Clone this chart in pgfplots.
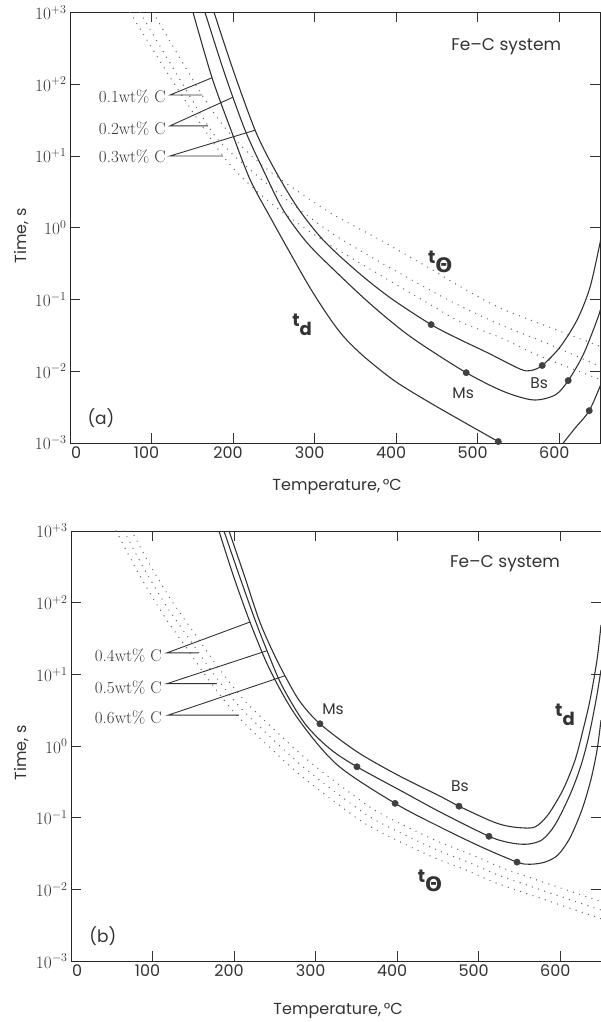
\documentclass[border=0pt]{standalone}
\usepackage{fontspec}
\usepackage{pgfplots}
\pgfplotsset{compat=1.18}
\newfontfamily\sansf[Ligatures=TeX]{Poppins}
\newfontfamily\greekf{DejaVu Sans}

\pgfplotsset{
  fecpanel/.style={
    scale only axis, width=530pt,
    xmin=0, xmax=650, ymin=-3, ymax=3,
    xtick={0,100,...,600},
    xticklabels={{\makebox[0pt][l]{\hspace{6pt}0}},100,200,300,400,500,600},
    ytick={-3,-2,...,3},
    yticklabels={$10^{-3}$,$10^{-2}$,$10^{-1}$,$10^{0}$,$10^{+1}$,$10^{+2}$,$10^{+3}$},
    tick align=inside, major tick length=10pt,
    tick style={line width=0.8pt, color=black!80},
    axis line style={line width=0.9pt, color=black!85},
    xticklabel style={font=\sansf\fontsize{16}{18}\selectfont, text=black!80, xshift=-5pt},
    yticklabel style={font=\fontsize{17}{20}\selectfont, text=black!80},
    clip mode=individual,
    xlabel={Temperature,\,°C}, ylabel={Time, s},
    label style={font=\sansf\fontsize{16}{18}\selectfont, text=black!80},
  },
  td/.style={line width=1.1pt, color=black!80, smooth},
  ttheta/.style={line width=1.4pt, color=black!60, dash pattern=on 0pt off 6.5pt, line cap=round, smooth},
  dots/.style={only marks, mark=*, mark size=3.2pt, color=black!75},
}
\tikzset{
  lead/.style={line width=0.9pt, color=black!80},
  lbl/.style={font=\fontsize{17}{20}\selectfont, text=black!80, anchor=east, inner sep=1pt},
  stxt/.style={font=\sansf\fontsize{15.5}{18}\selectfont, text=black!80},
  btxt/.style={font=\sansf\fontsize{17}{20}\selectfont, text=black!80},
}
\newcommand{\tdlabel}{{\sansf\bfseries\fontsize{18}{20}\selectfont t\raisebox{-9pt}{d}}}
\newcommand{\ttlabel}{{\sansf\bfseries\fontsize{18}{20}\selectfont t}\raisebox{-9pt}{\greekf\bfseries\fontsize{20}{22}\selectfont Θ}}

\begin{document}
\begin{tikzpicture}
\useasboundingbox (0,0) rectangle (601pt,1022pt);

% ---------------- (a) 0.1 - 0.3 wt% C ----------------
\begin{axis}[fecpanel, at={(70pt,579pt)}, anchor=south west, height=430.5pt,
  xlabel style={at={(axis description cs:0.504,-0.102)}, anchor=center},
  ylabel style={at={(axis description cs:-0.092,0.481)}, anchor=center}]
% t_theta (dotted)
\addplot[ttheta] coordinates {(101.8,3.00) (162.0,1.85) (190.2,1.39) (220.9,1.02) (254.0,0.71) (319.0,0.21) (380.4,-0.17) (441.7,-0.57) (478.5,-0.82) (527.6,-1.12) (589.0,-1.39) (651.5,-1.66)};
\addplot[ttheta] coordinates {(85.9,3.00) (169.3,1.42) (196.3,1.06) (220.9,0.81) (257.7,0.46) (319.0,-0.06) (380.4,-0.48) (441.7,-0.87) (478.5,-1.09) (527.6,-1.35) (589.0,-1.63) (651.5,-1.94)};
\addplot[ttheta] coordinates {(73.6,3.00) (128.8,1.99) (187.7,1.00) (227.0,0.53) (269.9,0.14) (319.0,-0.24) (380.4,-0.66) (441.7,-1.07) (478.5,-1.31) (527.6,-1.53) (576.7,-1.79) (651.5,-2.12)};
% t_d (solid)
\addplot[td] coordinates {(150.9,3.00) (174.2,2.09) (198.8,1.32) (220.9,0.67) (245.4,0.15) (269.9,-0.35) (294.5,-0.84) (319.0,-1.27) (337.4,-1.54) (362.0,-1.81) (398.8,-2.14) (441.7,-2.44) (484.7,-2.72) (525.2,-2.98) (539.9,-3.07)};
\addplot[td] coordinates {(598.0,-3.10) (604.9,-3.00) (619.6,-2.79) (636.8,-2.55) (651.5,-2.17)};
\addplot[td] coordinates {(165.6,3.00) (190.2,2.13) (214.7,1.36) (236.8,0.81) (261.3,0.25) (290.8,-0.21) (327.6,-0.63) (368.1,-1.06) (404.9,-1.41) (433.1,-1.64) (485.9,-2.02) (531.3,-2.28) (568.1,-2.40) (595.1,-2.33) (611.0,-2.13) (629.4,-1.77) (646.6,-1.28) (651.5,-1.10)};
\addplot[td] coordinates {(176.7,3.00) (200.0,2.20) (227.0,1.36) (249.1,0.85) (278.5,0.29) (310.4,-0.17) (352.1,-0.61) (392.6,-0.975) (442.9,-1.35) (478.5,-1.56) (511.7,-1.74) (552.1,-1.97) (565.0,-1.99) (579.1,-1.92) (601.2,-1.66) (622.1,-1.28) (638.0,-0.82) (651.5,-0.13)};
% Ms and Bs points
\addplot[dots] coordinates {(442.9,-1.35) (579.1,-1.92) (485.9,-2.02) (611.0,-2.13) (525.2,-2.98) (636.8,-2.55)};
% composition labels and leaders
\draw[lead] (174.2,2.09) -- (122.7,1.85) -- (162.0,1.85);
\draw[lead] (200.0,1.82) -- (122.7,1.42) -- (169.3,1.42);
\draw[lead] (227.0,1.36) -- (122.7,1.00) -- (187.7,1.00);
\node[lbl] at (119.0,1.83) {0.1wt\% C};
\node[lbl] at (119.0,1.38) {0.2wt\% C};
\node[lbl] at (119.0,0.99) {0.3wt\% C};
\node[btxt] at (535,2.52) {Fe–C system};
\node[text=black!80] at (454,-0.48) {\ttlabel};
\node[text=black!80] at (284.7,-1.35) {\tdlabel};
\node[stxt] at (482.2,-2.30) {Ms};
\node[stxt] at (575.5,-2.17) {Bs};
\node[btxt] at (38.0,-2.65) {(a)};
\end{axis}

% ---------------- (b) 0.4 - 0.6 wt% C ----------------
\begin{axis}[fecpanel, at={(71pt,61pt)}, anchor=south west, height=430pt,
  xlabel style={at={(axis description cs:0.504,-0.116)}, anchor=center},
  ylabel style={at={(axis description cs:-0.094,0.484)}, anchor=center}]
% t_theta (dotted)
\addplot[ttheta] coordinates {(55.3,3.00) (83.3,2.40) (112.7,1.84) (140.9,1.38) (169.1,0.92) (202.3,0.44) (239.1,0.03) (279.5,-0.39) (321.2,-0.76) (361.7,-1.09) (402.2,-1.33) (443.8,-1.55) (484.3,-1.73) (521.1,-1.91) (582.4,-2.15) (645.0,-2.39) (655.0,-2.43)};
\addplot[ttheta] coordinates {(65.0,3.00) (88.3,2.50) (117.7,1.94) (145.9,1.48) (174.1,1.02) (207.3,0.54) (244.1,0.13) (284.5,-0.29) (326.2,-0.66) (366.7,-0.99) (407.2,-1.23) (448.8,-1.45) (489.3,-1.63) (526.1,-1.81) (587.4,-2.05) (650.0,-2.29)};
\addplot[ttheta] coordinates {(70.0,3.10) (93.3,2.60) (122.7,2.04) (150.9,1.58) (179.1,1.12) (212.3,0.64) (249.1,0.23) (289.5,-0.19) (331.2,-0.56) (371.7,-0.89) (412.2,-1.13) (453.8,-1.35) (494.3,-1.53) (531.1,-1.71) (592.4,-1.95) (655.0,-2.19)};
% t_d (solid)
\addplot[td] coordinates {(193.8,3.00) (212.2,2.39) (230.6,1.76) (246.5,1.34) (262.4,0.98) (280.8,0.62) (305.3,0.31) (350.7,-0.08) (399.8,-0.40) (452.5,-0.70) (475.8,-0.84) (513.8,-1.04) (532.2,-1.11) (550.6,-1.14) (569.0,-1.13) (585.0,-0.96) (603.4,-0.61) (618.1,-0.20) (627.9,0.22) (636.5,0.64) (645.1,1.20) (650.0,1.69)};
\addplot[td] coordinates {(187.6,3.00) (206.0,2.39) (225.7,1.76) (240.4,1.33) (258.8,0.84) (287.0,0.31) (317.6,-0.04) (350.7,-0.29) (407.2,-0.64) (452.5,-0.92) (512.6,-1.26) (538.4,-1.35) (559.2,-1.37) (577.6,-1.31) (593.6,-1.10) (612.0,-0.68) (625.5,-0.27) (635.3,0.15) (643.9,0.64) (650.0,1.06)};
\addplot[td] coordinates {(181.5,3.00) (198.7,2.39) (219.5,1.73) (244.1,1.06) (277.2,0.40) (326.2,-0.26) (397.4,-0.80) (452.5,-1.13) (501.6,-1.40) (547.0,-1.62) (562.9,-1.65) (581.3,-1.62) (597.2,-1.52) (612.0,-1.28) (626.6,-0.89) (637.6,-0.47) (645.1,-0.06) (650.0,0.36)};
% Ms and Bs points
\addplot[dots] coordinates {(305.3,0.31) (475.8,-0.84) (350.7,-0.29) (512.6,-1.26) (397.4,-0.80) (547.0,-1.62)};
% composition labels and leaders
\draw[lead] (219.5,1.73) -- (117.7,1.30) -- (155.8,1.30);
\draw[lead] (240.4,1.33) -- (117.7,0.87) -- (179.0,0.87);
\draw[lead] (262.4,0.98) -- (119.0,0.43) -- (206.0,0.43);
\node[lbl] at (112.8,1.26) {0.4wt\% C};
\node[lbl] at (112.8,0.81) {0.5wt\% C};
\node[lbl] at (112.8,0.39) {0.6wt\% C};
\node[btxt] at (532.3,2.55) {Fe–C system};
\node[text=black!80] at (605.8,0.43) {\tdlabel};
\node[text=black!80] at (440.3,-1.88) {\ttlabel};
\node[stxt] at (321.3,0.52) {Ms};
\node[stxt] at (477.1,-0.56) {Bs};
\node[btxt] at (39.2,-2.65) {(b)};
\end{axis}
\end{tikzpicture}
\end{document}
